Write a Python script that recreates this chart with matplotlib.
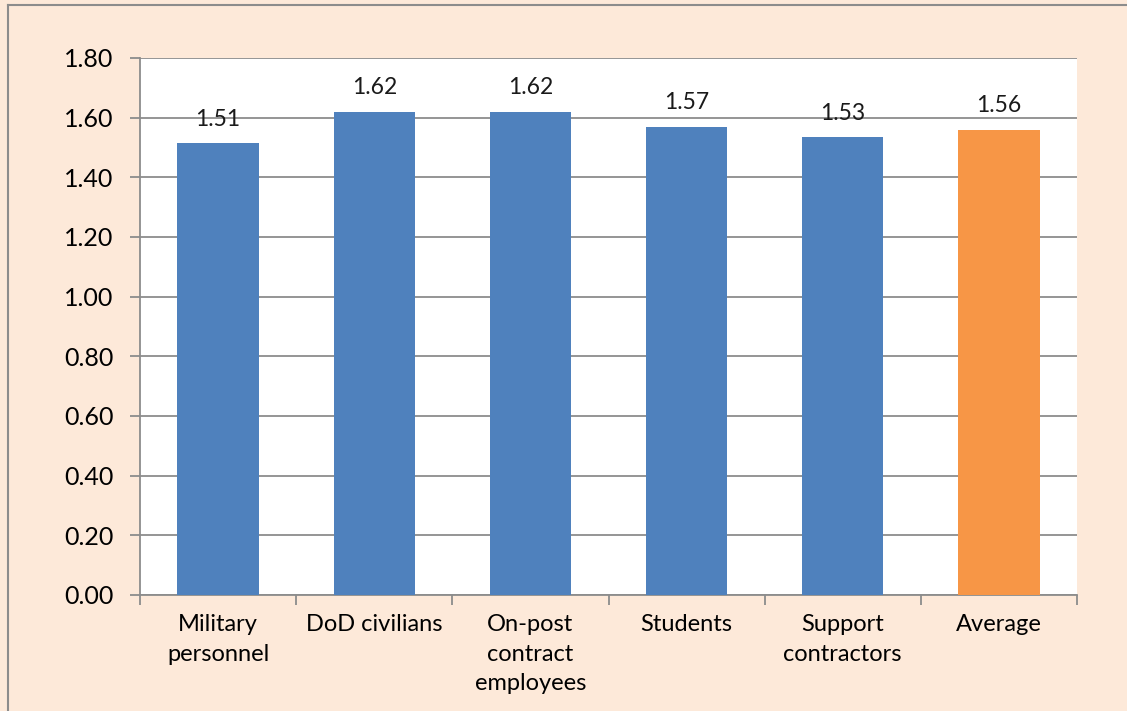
import matplotlib
matplotlib.use('Agg')
import matplotlib.pyplot as plt
from matplotlib.lines import Line2D

categories = ['Military\npersonnel', 'DoD civilians', 'On-post\ncontract\nemployees',
              'Students', 'Support\ncontractors', 'Average']
values = [1.515, 1.62, 1.62, 1.57, 1.535, 1.56]
labels = ['1.51', '1.62', '1.62', '1.57', '1.53', '1.56']
bar_colors = ['#4F81BD'] * 5 + ['#F79646']
yticks = [0.0, 0.2, 0.4, 0.6, 0.8, 1.0, 1.2, 1.4, 1.6, 1.8]

plt.rcParams['font.family'] = ['Lato', 'DejaVu Sans']

W, H = 1127, 711
fig = plt.figure(figsize=(W / 100, H / 100), dpi=100)
fig.patch.set_facecolor('#FDE9D9')
fig.patch.set_edgecolor('#FDE9D9')
fig.patch.set_linewidth(0)
# outer border, only top and left visible (rest is cropped)
fig.add_artist(Line2D([8 / W, 1.05], [1 - 5 / H, 1 - 5 / H], transform=fig.transFigure,
                      color='#8C8C8C', linewidth=1.5))
fig.add_artist(Line2D([8 / W, 8 / W], [-0.05, 1 - 5 / H], transform=fig.transFigure,
                      color='#8C8C8C', linewidth=1.5))

ax = fig.add_axes([140 / W, 1 - 595 / H, (1077 - 140) / W, (595 - 58) / H])
ax.set_facecolor('white')
x = range(len(categories))
bars = ax.bar(x, values, width=0.52, color=bar_colors, zorder=3)
for b, lab in zip(bars, labels):
    ax.text(b.get_x() + b.get_width() / 2, b.get_height() + 0.045, lab,
            ha='center', va='bottom', fontsize=16.5, color='#1a1a1a', zorder=4)

ax.set_xlim(-0.5, len(categories) - 0.5)
ax.set_ylim(0, 1.8)
ax.set_yticks(yticks)
ax.set_yticklabels([f'{v:.2f}' for v in yticks], fontsize=18)
ax.yaxis.grid(True, color='#8C8C8C', linewidth=1.3, zorder=0)
ax.set_axisbelow(True)

ax.set_xticks([i - 0.5 for i in range(len(categories) + 1)])
ax.set_xticklabels([])
ax.set_xticks(list(x), minor=True)
ax.set_xticklabels(categories, minor=True, fontsize=17, linespacing=1.5, va='top')
ax.tick_params(axis='x', which='minor', length=0, pad=14)
ax.tick_params(axis='x', which='major', length=7, color='#8C8C8C', width=1.3)
ax.tick_params(axis='y', length=7, color='#8C8C8C', width=1.3, pad=12)

for s in ['top', 'right']:
    ax.spines[s].set_visible(False)
for s in ['left', 'bottom']:
    ax.spines[s].set_color('#8C8C8C')
    ax.spines[s].set_linewidth(1.3)

fig.savefig('out.png', dpi=100, facecolor=fig.get_facecolor())
